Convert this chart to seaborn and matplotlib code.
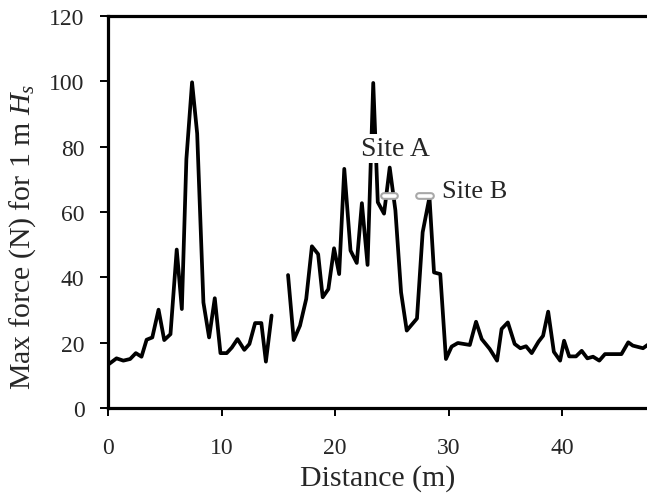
import numpy as np
import pandas as pd
import seaborn as sns
import matplotlib.pyplot as plt

# distance (m) and max force (N); two survey segments
x_seg1 = [0.1, 0.75, 1.35, 1.95, 2.45, 2.95, 3.4, 3.9, 4.45, 4.95, 5.5, 6.05, 6.5, 6.9,
          7.4, 7.85, 8.4, 8.9, 9.4, 9.9, 10.45, 10.9, 11.4, 12.0, 12.45, 12.95, 13.5, 13.9, 14.4]
y_seg1 = [13.5, 15.2, 14.5, 15.0, 16.8, 15.7, 20.9, 21.6, 30.1, 20.8, 22.6, 48.5, 30.3, 76.2,
          99.7, 84.0, 32.3, 21.6, 33.6, 16.8, 16.8, 18.5, 21.1, 17.8, 19.6, 26.0, 26.0, 14.2, 28.3]

x_seg2 = [15.85, 16.35, 16.9, 17.45, 17.95, 18.5, 18.9, 19.4, 19.9, 20.35, 20.8, 21.35, 21.9,
          22.35, 22.85, 23.35, 23.75, 24.3, 24.8, 25.3, 25.8, 26.3, 27.2, 27.7, 28.3, 28.7,
          29.25, 29.75, 30.25, 30.8, 31.85, 32.4, 32.9, 33.6, 34.25, 34.65, 35.2, 35.8, 36.3,
          36.8, 37.3, 37.9, 38.3, 38.75, 39.25, 39.8, 40.15, 40.6, 41.2, 41.7, 42.2, 42.7,
          43.25, 43.75, 45.2, 45.8, 46.2, 47.1, 47.5]
y_seg2 = [40.7, 20.8, 25.2, 33.4, 49.5, 47.1, 33.9, 36.4, 48.9, 41.0, 73.2, 48.2, 44.4,
          62.7, 43.8, 99.5, 63.0, 59.5, 73.6, 60.5, 35.4, 23.7, 27.4, 53.8, 64.5, 41.5,
          41.0, 15.0, 18.8, 19.9, 19.3, 26.4, 21.1, 18.1, 14.5, 24.2, 26.2, 19.6, 18.3,
          18.9, 16.8, 20.3, 22.1, 29.5, 17.2, 14.5, 20.6, 15.8, 15.8, 17.5, 15.2, 15.7,
          14.5, 16.5, 16.5, 20.1, 19.1, 18.3, 19.3]

site_names = ["Site A", "Site B"]
site_x = [24.8, 27.9]
site_y = [65, 65]

df = pd.concat([
    pd.DataFrame({"distance": x_seg1, "force": y_seg1, "segment": 1}),
    pd.DataFrame({"distance": x_seg2, "force": y_seg2, "segment": 2}),
])

sns.set_style("ticks")
plt.rcParams["font.family"] = ["Liberation Serif", "DejaVu Serif"]
plt.rcParams["mathtext.fontset"] = "custom"
plt.rcParams["mathtext.rm"] = "Liberation Serif"
plt.rcParams["mathtext.it"] = "Liberation Serif:italic"

fig = plt.figure(figsize=(6.47, 5.02), dpi=100)
ax = fig.add_axes([108 / 647, 93 / 502, 539 / 647, 392 / 502])

sns.lineplot(data=df, x="distance", y="force", units="segment", estimator=None,
             sort=False, color="black", lw=2.7, ax=ax)

# gray capsule markers for the two sites
for sx, sy in zip(site_x, site_y):
    ax.plot([sx - 0.5, sx + 0.5], [sy, sy], color="#a8a8a8", lw=5.6,
            solid_capstyle="round", zorder=5)
    ax.plot([sx - 0.5, sx + 0.5], [sy, sy], color="white", lw=2.6,
            solid_capstyle="round", zorder=6)

ax.text(22.3, 77.5, site_names[0], fontsize=20, ha="left", va="baseline", zorder=7,
        bbox=dict(facecolor="white", edgecolor="none", pad=1.5))
ax.text(29.4, 64.5, site_names[1], fontsize=19, ha="left", va="baseline", zorder=7)

ax.set_xlim(0, 47.45)
ax.set_ylim(0, 120)
ax.set_xticks([0, 10, 20, 30, 40])
ax.set_yticks(np.arange(0, 121, 20))
ax.set_xlabel("Distance (m)", fontsize=21.5, labelpad=4)
ax.set_ylabel(r"Max force (N) for 1 m $H_s$", fontsize=21.5)
ax.yaxis.set_label_coords(-0.13, 0.44)

for side in ["left", "bottom", "top"]:
    ax.spines[side].set_linewidth(2.3)
    ax.spines[side].set_color("black")
ax.spines["right"].set_visible(False)
ax.tick_params(axis="both", direction="out", length=6, width=1.4,
               labelsize=17, color="black")
ax.tick_params(axis="x", pad=15)
ax.tick_params(axis="y", pad=11)
ax.tick_params(top=False, right=False)

fig.savefig("out.png", dpi=100)
